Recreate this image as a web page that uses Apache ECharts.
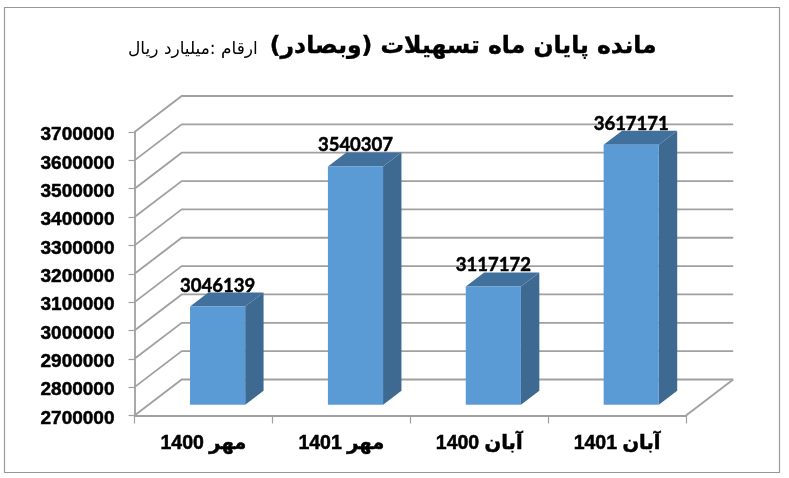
<!DOCTYPE html>
<html><head><meta charset="utf-8">
<style>html,body{margin:0;padding:0;background:#fff}#c{width:789px;height:478px}</style>
<script src="https://cdn.jsdelivr.net/npm/echarts@6/dist/echarts.min.js"></script>
</head><body><div id="c"></div>
<script>
const categories = ['مهر 1400', 'مهر 1401', 'آبان 1400', 'آبان 1401'];
const values = [3046139, 3540307, 3117172, 3617171];
const yTicks = [2700000, 2800000, 2900000, 3000000, 3100000, 3200000, 3300000, 3400000, 3500000, 3600000, 3700000];
const titleText = 'مانده پایان ماه تسهیلات (وبصادر)';
const unitText = 'ارقام :میلیارد ریال';

const DX = 47.2, DY = 36;            // projected depth of the 3D box
const BAR_FRONT = 0.3, BAR_BACK = 0.69, BAR_HALF = 0.2;
const GRID_COLOR = '#A0A0A0';
const FRONT = '#5B9BD5', SIDE = '#3E6A92', TOP = '#41709C';

const chart = echarts.init(document.getElementById('c'), null, {renderer: 'canvas'});

function renderWalls(params, api) {
  const cs = params.coordSys;
  const y = api.coord([0, api.value(1)])[1];
  const children = [{
    type: 'polyline', silent: true,
    shape: {points: [[cs.x, y], [cs.x + DX, y - DY], [cs.x + cs.width + DX, y - DY]]},
    style: {stroke: GRID_COLOR, lineWidth: 1.8, fill: null}
  }];
  if (params.dataIndex === 0) {
    children.push({
      type: 'line', silent: true,
      shape: {x1: cs.x + cs.width, y1: y, x2: cs.x + cs.width + DX, y2: y - DY},
      style: {stroke: GRID_COLOR, lineWidth: 1.8}
    });
  }
  return {type: 'group', children};
}

function renderBars(params, api) {
  const i = api.value(0), v = api.value(1);
  const top = api.coord([i, v]), base = api.coord([i, yTicks[0]]);
  const band = api.size([1, 0])[0];
  const fx = DX * BAR_FRONT, fy = DY * BAR_FRONT, bx = DX * BAR_BACK, by = DY * BAR_BACK;
  const cx = top[0] + fx, hw = band * BAR_HALF;
  const L = cx - hw, R = cx + hw;
  const T = top[1] - fy, B = base[1] - fy;
  const ox = bx - fx, oy = by - fy;
  return {type: 'group', children: [
    {type: 'polygon', silent: true, shape: {points: [[R, T], [R + ox, T - oy], [R + ox, B - oy], [R, B]]}, style: {fill: SIDE}},
    {type: 'polygon', silent: true, shape: {points: [[L, T], [L + ox, T - oy], [R + ox, T - oy], [R, T]]}, style: {fill: TOP}},
    {type: 'rect', silent: true, shape: {x: L, y: T, width: R - L, height: B - T}, style: {fill: FRONT}},
    {type: 'text', silent: true, z2: 50,
     style: {text: String(values[params.dataIndex]), x: cx, y: T - 21, align: 'center', verticalAlign: 'middle',
             fontWeight: 'bold', fontSize: 18.5, fontFamily: 'Lato, "Liberation Sans", sans-serif', fill: '#000',
             stroke: '#000', lineWidth: 0.5}}
  ]};
}

chart.setOption({
  animation: false,
  backgroundColor: '#fff',
  graphic: [{type: 'rect', shape: {x: 4.5, y: 7.5, width: 775, height: 465}, style: {fill: null, stroke: '#999', lineWidth: 1.2}, silent: true, z: -1}],
  title: [
    {text: titleText, right: 127, top: 30, textStyle: {fontFamily: '"DejaVu Sans", "Liberation Sans"', fontWeight: 'bold', fontSize: 23.5, color: '#000', textBorderColor: '#000', textBorderWidth: 0.4}},
    {text: unitText, left: 123, top: 36, textStyle: {fontFamily: '"DejaVu Sans", "Liberation Sans"', fontWeight: 'normal', fontSize: 17, color: '#000'}}
  ],
  grid: {left: 134.5, right: 103, top: 132, bottom: 62.5, containLabel: false},
  xAxis: {
    type: 'category', data: categories, boundaryGap: true,
    axisLine: {show: true, lineStyle: {color: GRID_COLOR, width: 1.8}},
    axisTick: {show: true, length: 8, alignWithLabel: false, lineStyle: {color: GRID_COLOR, width: 1.2}},
    axisLabel: {margin: 18, color: '#000', fontWeight: 'bold', fontSize: 19.5, fontFamily: '"Liberation Sans", "DejaVu Sans"', interval: 0, textBorderColor: '#000', textBorderWidth: 0.5},
    splitLine: {show: false}
  },
  yAxis: {
    type: 'value', min: yTicks[0], max: yTicks[yTicks.length - 1], interval: yTicks[1] - yTicks[0],
    axisLine: {show: true, lineStyle: {color: GRID_COLOR, width: 1.8}},
    axisTick: {show: true, length: 6, lineStyle: {color: GRID_COLOR, width: 1.2}},
    axisLabel: {margin: 20, formatter: v => '{n|' + v + '}',
      rich: {n: {color: '#000', fontWeight: 'bold', fontSize: 19, fontFamily: '"Liberation Sans"', padding: [6, 0, 0, 0], textBorderColor: '#000', textBorderWidth: 0.5}}},
    splitLine: {show: false}
  },
  series: [
    {type: 'custom', name: 'walls', clip: false, silent: true, z: 1, encode: {x: 0, y: 1}, data: yTicks.map(v => [0, v]), renderItem: renderWalls},
    {type: 'custom', name: 'bars', clip: false, silent: true, z: 3, encode: {x: 0, y: 1}, data: values.map((v, i) => [i, v]), renderItem: renderBars}
  ]
});
</script></body></html>
